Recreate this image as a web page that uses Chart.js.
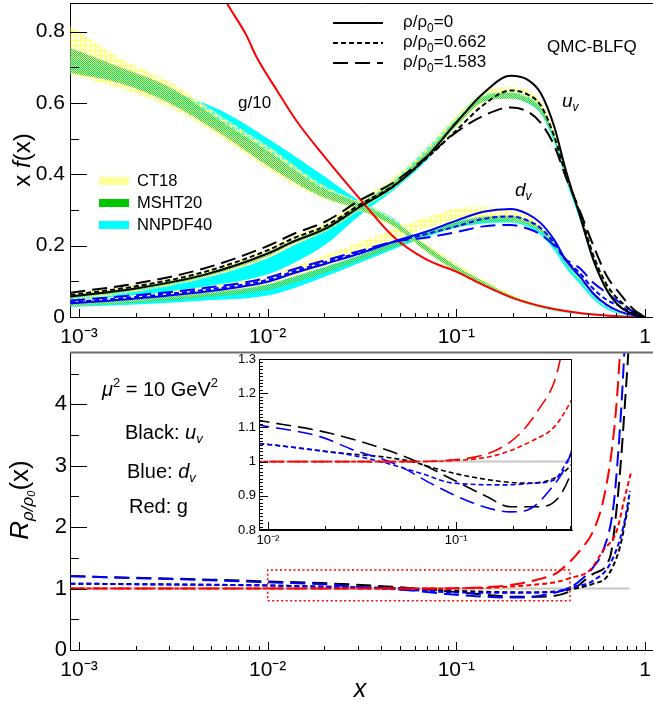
<!DOCTYPE html>
<html>
<head>
<meta charset="utf-8">
<script src="https://cdn.jsdelivr.net/npm/chart.js@4.4.1/dist/chart.umd.min.js"></script>
<style>
  body { margin: 0; background: #fff; width: 653px; height: 704px; overflow: hidden; position: relative; }
  canvas { position: absolute; left: 0; }
</style>
</head>
<body>
<canvas id="top" width="653" height="352" style="top:0"></canvas>
<canvas id="bottom" width="653" height="359" style="top:345px"></canvas>
<canvas id="inset" width="352" height="200" style="left:226px;top:352px"></canvas>
<script>
// ---- valores ----
const xTickVals = [0.001, 0.01, 0.1, 1];
const xTickLabels = ['10\u207B\u00B3', '10\u207B\u00B2', '10\u207B\u00B9', '1'];
const insetXTickVals = [0.01, 0.1];
const insetXTickLabels = ['10\u207B\u00B2', '10\u207B\u00B9'];
const topYTicks = [0, 0.2, 0.4, 0.6, 0.8];
const topYLabels = ['0', '0.2', '0.4', '0.6', '0.8'];
const botYTicks = [0, 1, 2, 3, 4];
const botYLabels = ['0', '1', '2', '3', '4'];
const insetYTicks = [0.8, 0.9, 1, 1.1, 1.2, 1.3];
const insetYLabels = ['0.8', '0.9', '1', '1.1', '1.2', '1.3'];

// panel superior: x f(x)
const valenceX = [0.0009, 0.002, 0.0046, 0.01, 0.0136, 0.0205, 0.0308, 0.0464, 0.07, 0.1, 0.139, 0.194, 0.238, 0.28, 0.33, 0.38, 0.453, 0.532, 0.627, 0.737, 0.867, 1.0];
const uRho0 = [0.057, 0.080, 0.118, 0.178, 0.211, 0.249, 0.309, 0.366, 0.45, 0.545, 0.627, 0.676, 0.665, 0.627, 0.534, 0.412, 0.281, 0.16, 0.076, 0.029, 0.008, 0];
const uRho1 = [0.062, 0.086, 0.126, 0.187, 0.220, 0.257, 0.315, 0.368, 0.446, 0.523, 0.594, 0.635, 0.624, 0.593, 0.507, 0.40, 0.29, 0.173, 0.09, 0.045, 0.015, 0];
const uRho2 = [0.068, 0.094, 0.136, 0.199, 0.232, 0.269, 0.327, 0.377, 0.45, 0.518, 0.564, 0.587, 0.576, 0.544, 0.481, 0.393, 0.295, 0.2, 0.115, 0.065, 0.022, 0];
const dRho0 = [0.038, 0.052, 0.071, 0.099, 0.122, 0.15, 0.178, 0.211, 0.24, 0.27, 0.295, 0.303, 0.289, 0.263, 0.216, 0.16, 0.113, 0.066, 0.034, 0.015, 0.005, 0];
const dRho1 = [0.041, 0.056, 0.076, 0.104, 0.127, 0.155, 0.181, 0.21, 0.233, 0.254, 0.275, 0.282, 0.271, 0.249, 0.207, 0.16, 0.122, 0.079, 0.048, 0.03, 0.012, 0];
const dRho2 = [0.046, 0.061, 0.081, 0.11, 0.133, 0.16, 0.185, 0.211, 0.223, 0.238, 0.254, 0.258, 0.248, 0.231, 0.2, 0.162, 0.136, 0.096, 0.068, 0.04, 0.015, 0];

const uCT18Lo = [0.045, 0.07, 0.108, 0.165, 0.2, 0.24, 0.3, 0.36, 0.445, 0.53, 0.6, 0.615, 0.605, 0.575, 0.5, 0.395, 0.28, 0.165, 0.08, 0.03, 0.008, 0];
const uCT18Hi = [0.065, 0.09, 0.128, 0.19, 0.225, 0.265, 0.33, 0.39, 0.475, 0.565, 0.63, 0.645, 0.635, 0.605, 0.525, 0.42, 0.3, 0.18, 0.09, 0.035, 0.01, 0];
const uMSHTLo = [0.052, 0.076, 0.112, 0.17, 0.205, 0.243, 0.303, 0.362, 0.447, 0.535, 0.603, 0.612, 0.6, 0.572, 0.497, 0.393, 0.28, 0.165, 0.08, 0.03, 0.008, 0];
const uMSHTHi = [0.06, 0.084, 0.122, 0.18, 0.215, 0.255, 0.318, 0.378, 0.463, 0.552, 0.618, 0.628, 0.615, 0.587, 0.51, 0.405, 0.29, 0.172, 0.085, 0.033, 0.009, 0];
const uNNPDFLo = [0.045, 0.06, 0.085, 0.12, 0.15, 0.205, 0.285, 0.355, 0.44, 0.535, 0.605, 0.615, 0.6, 0.57, 0.49, 0.385, 0.27, 0.155, 0.07, 0.025, 0.006, 0];
const uNNPDFHi = [0.055, 0.078, 0.11, 0.165, 0.2, 0.245, 0.315, 0.385, 0.475, 0.56, 0.625, 0.63, 0.62, 0.59, 0.51, 0.405, 0.285, 0.165, 0.078, 0.028, 0.007, 0];

const dCT18Lo = [0.03, 0.043, 0.062, 0.09, 0.112, 0.143, 0.178, 0.215, 0.25, 0.27, 0.275, 0.27, 0.258, 0.238, 0.2, 0.15, 0.105, 0.06, 0.03, 0.012, 0.004, 0];
const dCT18Hi = [0.048, 0.062, 0.085, 0.115, 0.14, 0.175, 0.21, 0.245, 0.28, 0.305, 0.31, 0.3, 0.285, 0.26, 0.218, 0.165, 0.118, 0.07, 0.036, 0.015, 0.005, 0];
const dMSHTLo = [0.03, 0.04, 0.055, 0.075, 0.095, 0.125, 0.158, 0.195, 0.228, 0.252, 0.265, 0.268, 0.258, 0.238, 0.198, 0.148, 0.103, 0.058, 0.028, 0.011, 0.003, 0];
const dMSHTHi = [0.04, 0.05, 0.068, 0.092, 0.113, 0.142, 0.174, 0.21, 0.243, 0.268, 0.282, 0.284, 0.272, 0.25, 0.21, 0.157, 0.11, 0.063, 0.031, 0.013, 0.004, 0];
const dNNPDFLo = [0.028, 0.035, 0.046, 0.06, 0.08, 0.115, 0.152, 0.19, 0.225, 0.25, 0.262, 0.265, 0.253, 0.23, 0.188, 0.138, 0.092, 0.05, 0.022, 0.008, 0.002, 0];
const dNNPDFHi = [0.04, 0.05, 0.065, 0.09, 0.11, 0.14, 0.172, 0.208, 0.24, 0.265, 0.278, 0.28, 0.268, 0.245, 0.203, 0.15, 0.102, 0.057, 0.027, 0.01, 0.003, 0];

const gluonX = [0.0009, 0.00165, 0.003, 0.0056, 0.0103, 0.0189, 0.0308, 0.0464, 0.07, 0.1, 0.139, 0.2, 0.3, 0.45, 0.6, 0.8, 1.0];
const gCT18Lo = [0.68, 0.64, 0.59, 0.505, 0.41, 0.335, 0.298, 0.25, 0.18, 0.125, 0.088, 0.05, 0.023, 0.009, 0.004, 0.001, 0];
const gCT18Hi = [0.815, 0.726, 0.66, 0.565, 0.475, 0.375, 0.322, 0.275, 0.205, 0.15, 0.105, 0.062, 0.03, 0.013, 0.006, 0.002, 0];
const gMSHTLo = [0.684, 0.655, 0.6, 0.515, 0.42, 0.34, 0.30, 0.255, 0.182, 0.128, 0.09, 0.052, 0.024, 0.01, 0.004, 0.001, 0];
const gMSHTHi = [0.754, 0.70, 0.645, 0.55, 0.46, 0.365, 0.318, 0.27, 0.198, 0.142, 0.1, 0.058, 0.028, 0.012, 0.005, 0.0015, 0];
const gNNPDFLo = [0.69, 0.66, 0.605, 0.53, 0.455, 0.36, 0.305, 0.258, 0.185, 0.13, 0.09, 0.05, 0.022, 0.008, 0.003, 0.0005, 0];
const gNNPDFHi = [0.725, 0.69, 0.635, 0.58, 0.496, 0.403, 0.325, 0.276, 0.198, 0.142, 0.098, 0.056, 0.026, 0.01, 0.004, 0.001, 0];

const gModelX = [0.0052, 0.006, 0.0077, 0.0087, 0.0112, 0.0142, 0.0196, 0.0322, 0.0464, 0.07, 0.1, 0.138, 0.2, 0.31, 0.45, 0.6, 0.8, 1.0];
const gModel = [0.95, 0.885, 0.79, 0.73, 0.635, 0.55, 0.455, 0.319, 0.225, 0.16, 0.127, 0.09, 0.053, 0.025, 0.011, 0.005, 0.001, 0];

// panel inferior: cocientes R = f(rho)/f(0)
const uShortX = [0.0009, 0.002, 0.005, 0.009, 0.0214, 0.0525, 0.0968, 0.179, 0.248, 0.33, 0.40, 0.532, 0.627, 0.737, 0.80, 0.823];
const uShortR = [1.08, 1.072, 1.062, 1.053, 1.028, 1.005, 0.966, 0.941, 0.937, 0.951, 0.985, 1.08, 1.19, 1.68, 2.22, 2.40];
const uLongX = [0.0009, 0.002, 0.005, 0.009, 0.0214, 0.0428, 0.0646, 0.0968, 0.146, 0.194, 0.28, 0.40, 0.532, 0.652, 0.708, 0.752, 0.784, 0.816, 0.83];
const uLongR = [1.20, 1.175, 1.145, 1.12, 1.083, 1.034, 0.995, 0.946, 0.897, 0.868, 0.868, 0.956, 1.24, 1.51, 2.32, 3.24, 4.05, 4.86, 5.3];
const dShortX = [0.0009, 0.002, 0.005, 0.009, 0.0189, 0.0284, 0.0428, 0.0646, 0.0968, 0.186, 0.258, 0.33, 0.40, 0.532, 0.652, 0.767, 0.833];
const dShortR = [1.08, 1.07, 1.06, 1.052, 1.032, 1.018, 0.995, 0.966, 0.937, 0.932, 0.937, 0.946, 1.014, 1.13, 1.40, 2.0, 2.59];
const dLongX = [0.0009, 0.002, 0.005, 0.009, 0.0189, 0.0284, 0.0464, 0.0789, 0.124, 0.194, 0.238, 0.303, 0.40, 0.453, 0.532, 0.60, 0.679, 0.722, 0.752, 0.777, 0.79];
const dLongR = [1.205, 1.17, 1.135, 1.107, 1.073, 1.034, 0.995, 0.927, 0.878, 0.853, 0.858, 0.907, 1.014, 1.13, 1.35, 1.62, 2.32, 3.24, 4.05, 4.86, 5.3];
const gShortX = [0.0009, 0.01, 0.05, 0.0968, 0.164, 0.258, 0.33, 0.40, 0.51, 0.60, 0.708, 0.78, 0.843];
const gShortR = [1.0, 1.0, 1.0, 1.003, 1.019, 1.063, 1.10, 1.17, 1.30, 1.62, 1.94, 2.48, 2.89];
const gLongX = [0.0009, 0.01, 0.05, 0.0968, 0.164, 0.219, 0.28, 0.33, 0.357, 0.453, 0.532, 0.60, 0.666, 0.708, 0.737, 0.75];
const gLongR = [1.0, 1.0, 1.0, 1.005, 1.034, 1.083, 1.16, 1.23, 1.30, 1.62, 1.94, 2.43, 3.24, 4.05, 4.86, 5.3];
const unityX = [0.0009, 0.83];
const unityY = [1, 1];
const zoomBoxX = [0.01, 0.4];
const zoomBoxY = [0.8, 1.3];

// ---- estilo ----
const FAMILY = '"Liberation Sans", Arial, Helvetica, sans-serif';
const SHORT = [5, 3];
const LONG = [15, 7];
const BLUE = '#0000ff', RED = '#ff0000', BLACK = '#000000';

const pts = (xs, ys) => xs.map((x, i) => ({ x: x, y: ys[i] }));
const fontStr = p => (p[2] || '') + ' ' + p[1] + 'px ' + FAMILY;

function rich(ctx, x, y, parts, align) {
  let w = 0;
  parts.forEach(p => { ctx.font = fontStr(p); w += ctx.measureText(p[0]).width; });
  let cx = align === 'center' ? x - w / 2 : x;
  ctx.textAlign = 'left';
  ctx.textBaseline = 'middle';
  ctx.fillStyle = '#000';
  parts.forEach(p => {
    ctx.font = fontStr(p);
    ctx.fillText(p[0], cx, y + (p[3] || 0));
    cx += ctx.measureText(p[0]).width;
  });
}
function richRot(ctx, x, y, parts) {
  ctx.save();
  ctx.translate(x, y);
  ctx.rotate(-Math.PI / 2);
  rich(ctx, 0, 0, parts, 'center');
  ctx.restore();
}

function logMinor(lo, hi) {
  const out = [];
  for (let e = -4; e <= 0; e++) {
    for (let m = 2; m <= 9; m++) {
      const v = m * Math.pow(10, e);
      if (v > lo && v < hi) out.push(v);
    }
  }
  return out;
}

function makePattern(ctx, kind) {
  const c = document.createElement('canvas');
  const g = c.getContext('2d');
  if (kind === 'ct18') {
    c.width = c.height = 5;
    g.fillStyle = 'rgba(255,255,190,0.35)';
    g.fillRect(0, 0, 5, 5);
    g.fillStyle = '#ffff7a';
    g.fillRect(0, 0, 5, 1.5);
    g.fillRect(0, 0, 1.5, 5);
  } else {
    c.width = c.height = 2;
    g.fillStyle = '#3ccc3c';
    g.fillRect(0, 0, 1, 1);
    g.fillRect(1, 1, 1, 1);
    g.fillStyle = 'rgba(170,235,170,0.45)';
    g.fillRect(1, 0, 1, 1);
    g.fillRect(0, 1, 1, 1);
  }
  return ctx.createPattern(c, 'repeat');
}

function makeFrame(cfg) {
  return {
    id: 'frame',
    beforeDraw(chart) {
      if (!cfg.white) return;
      const a = chart.chartArea, ctx = chart.ctx;
      ctx.save();
      ctx.fillStyle = '#fff';
      ctx.fillRect(a.left, a.top, a.width, a.height);
      ctx.restore();
    },
    afterDatasetsDraw(chart) {
      const { ctx, chartArea: a, scales } = chart;
      ctx.save();
      ctx.lineWidth = 1;
      ctx.strokeStyle = '#000';
      ['x', 'y'].forEach(id => {
        const s = scales[id], t = cfg[id];
        [[t.major, t.majorLen], [t.minor, t.minorLen]].forEach(([vals, len]) => {
          vals.forEach(v => {
            if (v < s.min || v > s.max) return;
            const p = Math.round(s.getPixelForValue(v)) + 0.5;
            ctx.beginPath();
            if (id === 'x') { ctx.moveTo(p, a.bottom); ctx.lineTo(p, a.bottom - len); }
            else { ctx.moveTo(a.left, p); ctx.lineTo(a.left + len, p); }
            ctx.stroke();
          });
        });
      });
      ctx.strokeStyle = cfg.topColor || '#000';
      ctx.lineWidth = cfg.topWidth || 1;
      ctx.beginPath();
      ctx.moveTo(a.left, a.top + 0.5);
      ctx.lineTo(a.right, a.top + 0.5);
      ctx.stroke();
      if (cfg.box) {
        ctx.strokeStyle = '#000';
        ctx.lineWidth = 1;
        ctx.strokeRect(a.left + 0.5, a.top + 0.5, a.width - 1, a.height - 1);
      }
      ctx.restore();
      if (cfg.text) cfg.text(ctx);
    }
  };
}

function lineDs(xs, ys, color, dash, width, order) {
  return {
    data: pts(xs, ys), borderColor: color, borderWidth: width, borderDash: dash,
    pointRadius: 0, fill: false, cubicInterpolationMode: 'monotone', order: order
  };
}
function bandDs(xs, hi, lo, bg, order) {
  return [
    { data: pts(xs, hi), borderWidth: 0, pointRadius: 0, backgroundColor: bg, fill: '+1', cubicInterpolationMode: 'monotone', order: order },
    { data: pts(xs, lo), borderWidth: 0, pointRadius: 0, fill: false, cubicInterpolationMode: 'monotone', order: order }
  ];
}

// sin márgenes automáticos: el área de trazado la fijan el alto/ancho de los ejes
function noPad(ax) {
  ax.paddingLeft = 0; ax.paddingRight = 0; ax.paddingTop = 0; ax.paddingBottom = 0;
}

function xAxis(min, max, vals, labels, size, pad, height) {
  return {
    type: 'logarithmic', min: min, max: max, bounds: 'data',
    grid: { display: false, drawTicks: false },
    border: { display: true, color: '#000', width: 1 },
    afterBuildTicks: ax => { ax.ticks = vals.map(v => ({ value: v })); },
    afterFit: ax => { ax.height = height; noPad(ax); },
    ticks: {
      autoSkip: false, maxRotation: 0, padding: pad, color: '#000',
      font: { family: FAMILY, size: size },
      callback: v => { const i = vals.indexOf(v); return i >= 0 ? labels[i] : ''; }
    }
  };
}
function yAxis(min, max, vals, labels, size, pad, width) {
  return {
    type: 'linear', min: min, max: max, bounds: 'data',
    grid: { display: false, drawTicks: false },
    border: { display: true, color: '#000', width: 1 },
    afterBuildTicks: ax => { ax.ticks = vals.map(v => ({ value: v })); },
    afterFit: ax => { ax.width = width; noPad(ax); },
    ticks: {
      autoSkip: false, padding: pad, color: '#000',
      font: { family: FAMILY, size: size },
      callback: v => { const i = vals.indexOf(v); return i >= 0 ? labels[i] : ''; }
    }
  };
}

const baseOpts = {
  responsive: false, animation: false, devicePixelRatio: 1, events: [],
  plugins: { legend: { display: false }, tooltip: { enabled: false } }
};

const X_MIN = 0.000896, X_MAX = 1.102;

// ---- panel superior ----
const topCtx = document.getElementById('top').getContext('2d');
const ct18 = makePattern(topCtx, 'ct18');
const msht = makePattern(topCtx, 'msht');
const nnpdf = '#00ffff';

const topText = ctx => {
  richRot(ctx, 23, 160, [['x ', 24], ['f', 24, 'italic'], ['(x)', 24]]);
  // leyenda de bandas
  [['CT18', '#ffff99', 181], ['MSHT20', '#00c800', 203], ['NNPDF40', nnpdf, 225]].forEach(r => {
    ctx.fillStyle = r[1];
    ctx.fillRect(99, r[2] - 4, 30, 8);
    rich(ctx, 137, r[2], [[r[0], 16.5]]);
  });
  // leyenda de densidades
  [[[], 23, '0'], [SHORT, 43, '0.662'], [LONG, 63, '1.583']].forEach(r => {
    ctx.save();
    ctx.strokeStyle = '#000';
    ctx.lineWidth = 2;
    ctx.setLineDash(r[0]);
    ctx.beginPath();
    ctx.moveTo(333, r[1]);
    ctx.lineTo(383, r[1]);
    ctx.stroke();
    ctx.restore();
    rich(ctx, 403, r[1] - 1, [['\u03C1/\u03C1', 17], ['0', 12, '', 7], ['=' + r[2], 17]]);
  });
  rich(ctx, 547, 47, [['QMC-BLFQ', 17]]);
  rich(ctx, 238, 103, [['g/10', 17]]);
  rich(ctx, 562, 102, [['u', 19, 'italic'], ['v', 12, 'italic', 6]]);
  rich(ctx, 515, 191, [['d', 19, 'italic'], ['v', 12, 'italic', 6]]);
};

new Chart(topCtx, {
  type: 'line',
  data: {
    datasets: [
      lineDs(valenceX, uRho0, BLACK, [], 2, 0),
      lineDs(valenceX, uRho1, BLACK, SHORT, 2, 0),
      lineDs(valenceX, uRho2, BLACK, LONG, 2, 0),
      lineDs(valenceX, dRho0, BLUE, [], 2, 0),
      lineDs(valenceX, dRho1, BLUE, SHORT, 2, 0),
      lineDs(valenceX, dRho2, BLUE, LONG, 2, 0),
      lineDs(gModelX, gModel, RED, [], 2, 0),
      ...bandDs(valenceX, uMSHTHi, uMSHTLo, msht, 1),
      ...bandDs(valenceX, dMSHTHi, dMSHTLo, msht, 1),
      ...bandDs(gluonX, gMSHTHi, gMSHTLo, msht, 1),
      ...bandDs(valenceX, uCT18Hi, uCT18Lo, ct18, 2),
      ...bandDs(valenceX, dCT18Hi, dCT18Lo, ct18, 2),
      ...bandDs(gluonX, gCT18Hi, gCT18Lo, ct18, 2),
      ...bandDs(valenceX, uNNPDFHi, uNNPDFLo, nnpdf, 3),
      ...bandDs(valenceX, dNNPDFHi, dNNPDFLo, nnpdf, 3),
      ...bandDs(gluonX, gNNPDFHi, gNNPDFLo, nnpdf, 3)
    ]
  },
  options: {
    ...baseOpts,
    layout: { padding: { top: 3, left: 0, right: 0, bottom: 0 } },
    scales: {
      x: xAxis(X_MIN, X_MAX, xTickVals, xTickLabels, 21, 8, 35),
      y: yAxis(0, 0.88, topYTicks, topYLabels, 21, 5, 70)
    }
  },
  plugins: [makeFrame({
    x: { major: xTickVals, minor: logMinor(X_MIN, X_MAX), majorLen: 8, minorLen: 4 },
    y: { major: topYTicks, minor: [0.1, 0.3, 0.5, 0.7], majorLen: 17, minorLen: 9 },
    topColor: '#000', text: topText
  })]
});

// ---- panel inferior ----
function ratioSets(w) {
  return [
    lineDs(gShortX, gShortR, RED, SHORT, w, 0),
    lineDs(gLongX, gLongR, RED, LONG, w, 0),
    lineDs(dShortX, dShortR, BLUE, SHORT, w, 0),
    lineDs(dLongX, dLongR, BLUE, LONG, w, 0),
    lineDs(uShortX, uShortR, BLACK, SHORT, w, 0),
    lineDs(uLongX, uLongR, BLACK, LONG, w, 0),
    { ...lineDs(unityX, unityY, '#c8c8c8', [], 2, 5), cubicInterpolationMode: 'default' }
  ];
}

const OFF = 345;
const botText = ctx => {
  richRot(ctx, 21, 500 - OFF, [['R', 26, 'italic'], ['\u03C1/\u03C1', 17, 'italic', 7], ['0', 11, 'italic', 11], ['(x)', 26]]);
  rich(ctx, 360, 690 - OFF, [['x', 25, 'italic']], 'center');
  rich(ctx, 102, 390 - OFF, [['\u03BC', 20, 'italic'], ['2', 13, '', -7], [' = 10 GeV', 20], ['2', 13, '', -7]]);
  rich(ctx, 125, 433 - OFF, [['Black: ', 20], ['u', 20, 'italic'], ['v', 13, 'italic', 6]]);
  rich(ctx, 127, 472 - OFF, [['Blue: ', 20], ['d', 20, 'italic'], ['v', 13, 'italic', 6]]);
  rich(ctx, 129, 507 - OFF, [['Red: g', 20]]);
};

const boxPts = [
  { x: zoomBoxX[0], y: zoomBoxY[0] }, { x: zoomBoxX[1], y: zoomBoxY[0] },
  { x: zoomBoxX[1], y: zoomBoxY[1] }, { x: zoomBoxX[0], y: zoomBoxY[1] },
  { x: zoomBoxX[0], y: zoomBoxY[0] }
];

new Chart(document.getElementById('bottom'), {
  type: 'line',
  data: {
    datasets: [
      { data: boxPts, borderColor: RED, borderWidth: 1.5, borderDash: [2, 2.5], pointRadius: 0, fill: false, order: 0 },
      ...ratioSets(2)
    ]
  },
  options: {
    ...baseOpts,
    layout: { padding: { top: 7, left: 0, right: 0, bottom: 0 } },
    scales: {
      x: xAxis(X_MIN, X_MAX, xTickVals, xTickLabels, 21, 8, 54),
      y: yAxis(0, 4.85, botYTicks, botYLabels, 22, 3, 70)
    }
  },
  plugins: [makeFrame({
    x: { major: xTickVals, minor: logMinor(X_MIN, X_MAX), majorLen: 8, minorLen: 4 },
    y: { major: botYTicks, minor: [0.5, 1.5, 2.5, 3.5, 4.5], majorLen: 17, minorLen: 9 },
    topColor: '#6e6e6e', topWidth: 2, text: botText
  })]
});

// ---- recuadro ampliado ----
const insetMinor = [];
for (let k = 80; k <= 130; k++) { if (k % 10) insetMinor.push(k / 100); }
const IN_MIN = 0.00896, IN_MAX = 0.412;

new Chart(document.getElementById('inset'), {
  type: 'line',
  data: { datasets: ratioSets(1.6) },
  options: {
    ...baseOpts,
    layout: { padding: { top: 7, left: 0, right: 6, bottom: 0 } },
    scales: {
      x: xAxis(IN_MIN, IN_MAX, insetXTickVals, insetXTickLabels, 13, 3, 22),
      y: yAxis(0.8, 1.3, insetYTicks, insetYLabels, 13, 3, 33)
    }
  },
  plugins: [makeFrame({
    x: { major: insetXTickVals, minor: logMinor(IN_MIN, IN_MAX), majorLen: 8, minorLen: 4 },
    y: { major: insetYTicks, minor: insetMinor, majorLen: 9, minorLen: 4 },
    topColor: '#000', box: true, white: true
  })]
});
</script>
</body>
</html>
